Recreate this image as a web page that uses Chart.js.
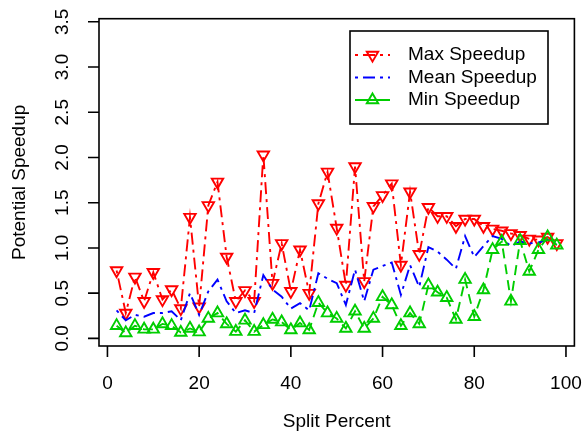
<!DOCTYPE html>
<html lang="en">
<head>
<meta charset="UTF-8">
<title>Potential Speedup</title>
<script src="https://cdn.jsdelivr.net/npm/chart.js"></script>
<style>
  html, body { margin: 0; padding: 0; background: #ffffff; }
  canvas { display: block; }
</style>
</head>
<body>
<canvas id="speedupChart" width="584" height="441"></canvas>
<script>
// split percent values (x) and the three speedup series
const splitPercent = [2, 4, 6, 8, 10, 12, 14, 16, 18, 20, 22, 24, 26, 28, 30, 32, 34, 36, 38, 40,
  42, 44, 46, 48, 50, 52, 54, 56, 58, 60, 62, 64, 66, 68, 70, 72, 74, 76, 78, 80,
  82, 84, 86, 88, 90, 92, 94, 96, 98];

const maxSpeedup = [0.75, 0.28, 0.68, 0.41, 0.73, 0.43, 0.54, 0.33, 1.34, 0.35,
  1.47, 1.73, 0.90, 0.41, 0.53, 0.41, 2.03, 0.61, 1.05, 0.52,
  0.98, 0.50, 1.49, 1.84, 1.22, 0.59, 1.90, 0.63, 1.46, 1.58,
  1.71, 0.81, 1.62, 0.93, 1.45, 1.35, 1.35, 1.24, 1.32, 1.32,
  1.24, 1.21, 1.19, 1.16, 1.14, 1.10, 1.09, 1.12, 1.05];

const meanSpeedup = [0.31, 0.20, 0.26, 0.24, 0.28, 0.28, 0.30, 0.20, 0.50, 0.26,
  0.52, 0.65, 0.41, 0.28, 0.31, 0.28, 0.70, 0.54, 0.46, 0.33,
  0.39, 0.31, 0.72, 0.66, 0.61, 0.37, 0.76, 0.41, 0.76, 0.80,
  0.84, 0.48, 0.81, 0.57, 1.01, 0.96, 0.87, 0.77, 1.13, 0.90,
  1.02, 1.13, 1.10, 1.02, 1.07, 1.05, 1.06, 1.09, 1.04];

const minSpeedup = [0.14, 0.06, 0.14, 0.10, 0.10, 0.16, 0.14, 0.065, 0.11, 0.07,
  0.22, 0.28, 0.16, 0.075, 0.20, 0.075, 0.15, 0.21, 0.18, 0.094,
  0.17, 0.094, 0.395, 0.28, 0.22, 0.11, 0.30, 0.11, 0.22, 0.46,
  0.37, 0.14, 0.28, 0.16, 0.59, 0.51, 0.45, 0.21, 0.65, 0.24,
  0.535, 0.98, 1.07, 0.41, 1.08, 0.74, 0.98, 1.12, 1.03];

const xTicks = [0, 20, 40, 60, 80, 100];
const yTicks = [0.0, 0.5, 1.0, 1.5, 2.0, 2.5, 3.0, 3.5];

const RED = '#ff0000';
const BLUE = '#0000ff';
const GREEN = '#00cd00';
const FONT = '19px "Liberation Sans", Arial, Helvetica, sans-serif';
const DOTDASH = [3, 5, 12, 5];
const DASHED = [10, 6];
const LINE_W = 1.9;
const MARK_R = 6.6;

function toPoints(ys) {
  return splitPercent.map((x, i) => ({ x: x, y: ys[i] }));
}

function triangle(ctx, cx, cy, r, down) {
  const s = down ? -1 : 1;
  ctx.beginPath();
  ctx.moveTo(cx, cy - s * r);
  ctx.lineTo(cx + r * Math.sin(Math.PI / 3), cy + s * r / 2);
  ctx.lineTo(cx - r * Math.sin(Math.PI / 3), cy + s * r / 2);
  ctx.closePath();
  ctx.stroke();
}

// base-graphics style frame, ticks, labels and legend
const frame = {
  id: 'frame',
  afterDraw(chart) {
    const { ctx, chartArea: a, scales: { x, y } } = chart;
    ctx.save();
    ctx.strokeStyle = '#000';
    ctx.lineWidth = 1.6;
    ctx.setLineDash([]);
    ctx.strokeRect(a.left, a.top, a.right - a.left, a.bottom - a.top);

    ctx.beginPath();
    xTicks.forEach(v => {
      const px = x.getPixelForValue(v);
      ctx.moveTo(px, a.bottom);
      ctx.lineTo(px, a.bottom + 11);
    });
    yTicks.forEach(v => {
      const py = y.getPixelForValue(v);
      ctx.moveTo(a.left, py);
      ctx.lineTo(a.left - 11, py);
    });
    ctx.stroke();

    ctx.fillStyle = '#000';
    ctx.font = FONT;
    ctx.textAlign = 'center';
    ctx.textBaseline = 'middle';
    xTicks.forEach(v => ctx.fillText(String(v), x.getPixelForValue(v), a.bottom + 38));
    ctx.fillText('Split Percent', (a.left + a.right) / 2, a.bottom + 76);

    yTicks.forEach(v => {
      ctx.save();
      ctx.translate(a.left - 36, y.getPixelForValue(v));
      ctx.rotate(-Math.PI / 2);
      ctx.fillText(v.toFixed(1), 0, 0);
      ctx.restore();
    });
    ctx.save();
    ctx.translate(20, (a.top + a.bottom) / 2);
    ctx.rotate(-Math.PI / 2);
    ctx.fillText('Potential Speedup', 0, 0);
    ctx.restore();

    // legend
    const lx = 350, ly = 31, lw = 198, lh = 93;
    ctx.fillStyle = '#fff';
    ctx.fillRect(lx, ly, lw, lh);
    ctx.strokeStyle = '#000';
    ctx.strokeRect(lx, ly, lw, lh);
    const rows = [
      { label: 'Max Speedup', color: RED, dash: DOTDASH, marker: 'down', y: 55 },
      { label: 'Mean Speedup', color: BLUE, dash: DOTDASH, marker: null, y: 77.5 },
      { label: 'Min Speedup', color: GREEN, dash: [], marker: 'up', y: 100 }
    ];
    rows.forEach(r => {
      ctx.strokeStyle = r.color;
      ctx.lineWidth = LINE_W;
      ctx.setLineDash(r.dash);
      ctx.beginPath();
      ctx.moveTo(355, r.y);
      ctx.lineTo(390, r.y);
      ctx.stroke();
      ctx.setLineDash([]);
      if (r.marker) triangle(ctx, 372.5, r.y, MARK_R, r.marker === 'down');
      ctx.fillStyle = '#000';
      ctx.textAlign = 'left';
      ctx.fillText(r.label, 408, r.y);
    });
    ctx.restore();
  }
};

new Chart(document.getElementById('speedupChart'), {
  type: 'line',
  data: {
    datasets: [
      {
        label: 'Max Speedup',
        data: toPoints(maxSpeedup),
        borderColor: RED,
        borderWidth: LINE_W,
        borderDash: DOTDASH,
        pointStyle: 'triangle',
        rotation: 180,
        pointRadius: MARK_R,
        pointBorderWidth: LINE_W,
        pointBorderColor: RED,
        pointBackgroundColor: 'rgba(0,0,0,0)',
        order: 2
      },
      {
        label: 'Mean Speedup',
        data: toPoints(meanSpeedup),
        borderColor: BLUE,
        borderWidth: LINE_W,
        borderDash: DOTDASH,
        pointRadius: 0,
        order: 1
      },
      {
        label: 'Min Speedup',
        data: toPoints(minSpeedup),
        borderColor: GREEN,
        borderWidth: LINE_W,
        borderDash: DASHED,
        pointStyle: 'triangle',
        pointRadius: MARK_R,
        pointBorderWidth: LINE_W,
        pointBorderColor: GREEN,
        pointBackgroundColor: 'rgba(0,0,0,0)',
        order: 0
      }
    ]
  },
  options: {
    responsive: false,
    animation: false,
    devicePixelRatio: 1,
    layout: { padding: { left: 99, right: 9.6, top: 18.7, bottom: 95 } },
    elements: { line: { tension: 0, fill: false } },
    scales: {
      x: { type: 'linear', min: -1.84, max: 101.84, display: false },
      y: { type: 'linear', min: -0.084, max: 3.534, display: false }
    },
    plugins: { legend: { display: false }, tooltip: { enabled: false } }
  },
  plugins: [frame]
});
</script>
</body>
</html>
